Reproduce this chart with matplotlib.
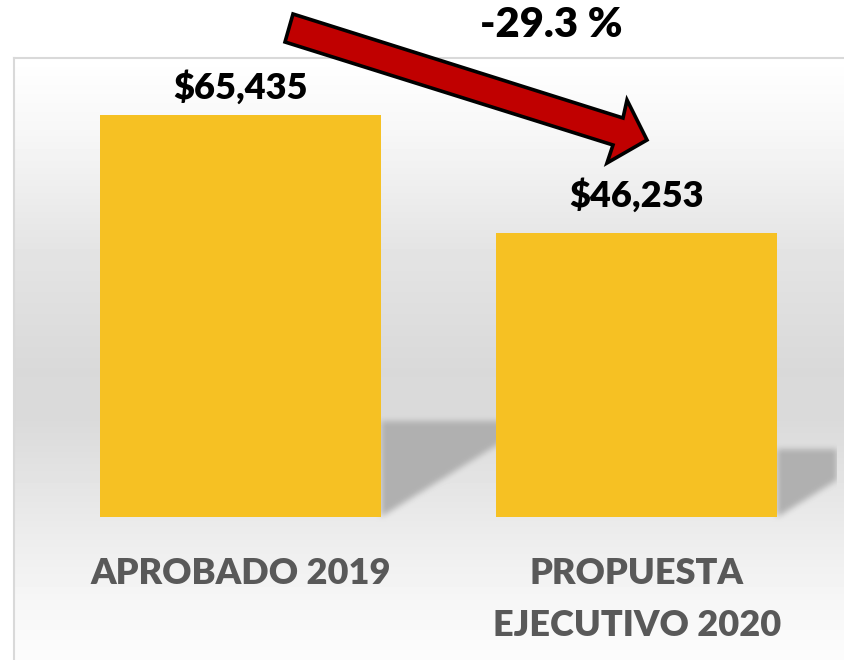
import numpy as np
import matplotlib
matplotlib.use('Agg')
import matplotlib.pyplot as plt
from matplotlib.patches import Polygon
from matplotlib.path import Path

categories = ["APROBADO 2019", "PROPUESTA\nEJECUTIVO 2020"]
values = [65435, 46253]
value_labels = ["$65,435", "$46,253"]
change_label = "-29.3 %"

plt.rcParams['font.family'] = ['Lato', 'DejaVu Sans']

W, H = 845, 660
fig = plt.figure(figsize=(W / 100, H / 100), dpi=100)

# background axes (pixel coordinates, origin top-left)
bg = fig.add_axes([0, 0, 1, 1], zorder=0)
bg.set_xlim(0, W)
bg.set_ylim(H, 0)
bg.axis('off')

ax = fig.add_axes([42 / W, (H - 517) / H, (835 - 42) / W, (517 - 58) / H], zorder=1)
ax.patch.set_alpha(0)
xpos = np.arange(len(categories))
bars = ax.bar(xpos, values, width=0.709, color='#F6C123', zorder=2)
ax.set_xlim(-0.5, 1.5)
ax.set_ylim(0, 74714)
for s in ax.spines.values():
    s.set_visible(False)
ax.set_yticks([])
ax.set_xticks(xpos, categories)
ax.tick_params(axis='x', length=0, pad=29)
for lbl in ax.get_xticklabels():
    lbl.set_fontsize(26)
    lbl.set_fontweight('heavy')
    lbl.set_color('#595959')
    lbl.set_linespacing(1.68)

label_offsets_pt = [11.5, 18.5]
for xi, v, t, off in zip(xpos, values, value_labels, label_offsets_pt):
    ax.annotate(t, (xi, v), xytext=(0, off), textcoords='offset points',
                ha='center', va='baseline', fontsize=26, fontweight='heavy', color='black')

# ---- background gradient + shadows (pixel image) ----
top_area, left_area, right_clip = 58, 14, 837
stops_y = [58, 130, 250, 370, 420, 520, 600, 660]
stops_g = [255, 247, 228, 217, 218, 234, 246, 252]
rows = np.interp(np.arange(H) + 0.5, stops_y, stops_g)
img = np.tile(rows[:, None], (1, W)).astype(float)

# shadows derived from bar geometry
yy, xx = np.mgrid[0:H, 0:W]
pts = np.column_stack([xx.ravel() + 0.5, yy.ravel() + 0.5])
mask = np.zeros(H * W)
for b in bars:
    (x0, y0), (x1, y1) = ax.transData.transform([(b.get_x(), 0), (b.get_x() + b.get_width(), b.get_height())])
    R = x1
    bottom = H - y0
    topb = H - y1
    h = bottom - topb
    s = 0.24 * h
    ext = s / 0.62
    poly = Path([(R, bottom - s), (R + ext, bottom - s), (R, bottom), (R, bottom - s)])
    mask = np.maximum(mask, poly.contains_points(pts).astype(float))
mask = mask.reshape(H, W)
mask[:, right_clip:] = 0

def box_blur(a, k, axis):
    pad = k // 2
    ap = np.pad(a, [(pad, pad) if i == axis else (0, 0) for i in range(2)], mode='edge')
    c = np.cumsum(ap, axis=axis)
    c = np.insert(c, 0, 0, axis=axis)
    if axis == 0:
        return (c[k:, :] - c[:-k, :]) / k
    return (c[:, k:] - c[:, :-k]) / k

for _ in range(2):
    mask = box_blur(mask, 7, 0)
    mask = box_blur(mask, 7, 1)
mask[:, right_clip:] = 0

img = img - mask * (img - 176)
img[:top_area, :] = 255
img[:, :left_area] = 255
bg.imshow(img, cmap='gray', vmin=0, vmax=255, extent=(0, W, H, 0),
          interpolation='nearest', aspect='auto')
bg.plot([left_area, left_area], [top_area, H], color='#d9d9d9', lw=1.5)
bg.plot([left_area, W], [top_area, top_area], color='#d9d9d9', lw=1.5)

# ---- change arrow (decoration) ----
arrow_px = [(293, 14), (623, 118), (627, 100), (647, 140), (607, 163), (613, 145), (285, 42)]
arrow = Polygon([(px / W, 1 - py / H) for px, py in arrow_px], closed=True,
                transform=fig.transFigure, facecolor='#C00000', edgecolor='black',
                linewidth=2.6, joinstyle='miter', zorder=5)
fig.patches.append(arrow)

fig.text(551 / W, 1 - 25 / H, change_label, ha='center', va='center',
         fontsize=30, fontweight='heavy', color='black')

fig.savefig('out.png', dpi=100)
